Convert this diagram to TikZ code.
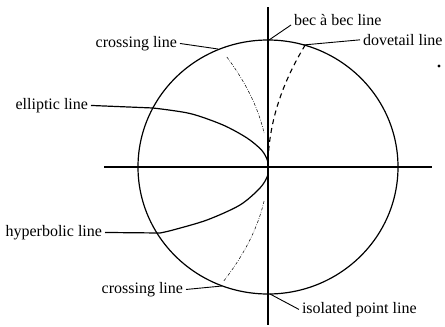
\documentclass[tikz,border=0pt]{standalone}
\usepackage{fontspec}
\setmainfont{Liberation Serif}
\begin{document}
\begin{tikzpicture}[x=1pt,y=-1pt,
  lbl/.style={inner sep=0pt,outer sep=3pt,font=\fontsize{16}{18}\selectfont},
  main/.style={line width=1.2pt},
  leader/.style={line width=0.9pt},
  dashdotline/.style={line width=0.5pt,dash pattern=on 3pt off 1.5pt on 0.7pt off 1.5pt},
  dovetailline/.style={line width=1.1pt,dash pattern=on 5pt off 4pt}]
\useasboundingbox (0,0) rectangle (445,327);
\coordinate (O) at (268,167);
% axes
\coordinate (xl) at (104,167);
\coordinate (xr) at (432,167);
\coordinate (yt) at (268,7);
\coordinate (yb) at (268,325);
\draw[main] (xl) -- (xr);
\draw[main] (yt) -- (yb);
% circle
\draw[main] (O) ellipse [x radius=130, y radius=127];
% labels
\node[lbl,anchor=base west] (bec) at (291,25) {bec à bec line};
\node[lbl,anchor=mid west] (dove) at (360,43) {dovetail line};
\node[lbl,anchor=mid east] (crossT) at (180,45) {crossing line};
\node[lbl,anchor=mid east] (ellip) at (91,107) {elliptic line};
\node[lbl,anchor=mid east] (hyp) at (105,234) {hyperbolic line};
\node[lbl,anchor=mid east] (crossB) at (186,291) {crossing line};
\node[lbl,anchor=mid west] (iso) at (299,311) {isolated point line};
% circle points
\coordinate (pbec) at (269,40);
\coordinate (pdove) at (303,45);
\coordinate (pcrossT) at (218,49);
\coordinate (pcrossB) at (222,286);
\coordinate (piso) at (270,294);
\coordinate (pell) at (153,108);
\coordinate (phyp) at (160,233);
% leaders
\draw[leader] (pbec) -- (bec.base west);
\draw[leader] (pdove) -- (dove.west);
\draw[leader] (crossT.east) -- (pcrossT);
\draw[leader] (crossB.east) -- (pcrossB);
\draw[leader] (piso) -- (iso.west);
% elliptic and hyperbolic lines
\draw[main] (ellip.east) -- (pell) plot[smooth] coordinates {(153,108) (190,113.5) (223,125) (247,138) (261.5,150) (267.3,160) (268,167)};
\draw[main] (hyp.east) -- (phyp) plot[smooth] coordinates {(160,233) (173,230) (207,220) (240,205) (260,188) (267.5,176) (268,167)};
% crossing curves
\draw[dashdotline] plot[domain=-110:-34,samples=40,smooth] ({268-0.0034*\x*\x},{167+\x});
\draw[dashdotline] plot[domain=34:114,samples=40,smooth] ({268-0.0034*\x*\x},{167+\x});
% dovetail curve
\draw[dovetailline] plot[domain=-122:-6,samples=40,smooth] ({268+0.0025*\x*\x},{167+\x});
% dot
\fill (439,66) circle [radius=1.6];
\end{tikzpicture}
\end{document}
